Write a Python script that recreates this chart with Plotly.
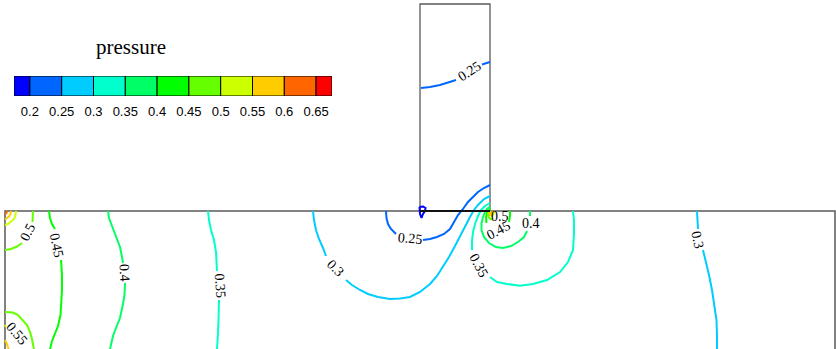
import plotly.graph_objects as go

# ---------------- colour legend (pressure bands) ----------------
band_low = [0.175, 0.2, 0.25, 0.3, 0.35, 0.4, 0.45, 0.5, 0.55, 0.6, 0.65]
band_high = [0.2, 0.25, 0.3, 0.35, 0.4, 0.45, 0.5, 0.55, 0.6, 0.65, 0.675]
band_colors = ['#0000ff', '#0066ff', '#00ccff', '#00ffcc', '#00ff66', '#00ff00',
               '#66ff00', '#ccff00', '#ffcc00', '#ff6600', '#ff0000']
tick_values = [0.2, 0.25, 0.3, 0.35, 0.4, 0.45, 0.5, 0.55, 0.6, 0.65]
tick_labels = ['0.2', '0.25', '0.3', '0.35', '0.4', '0.45', '0.5', '0.55', '0.6', '0.65']

# ---------------- geometry (domain outline) ----------------
channel_x = [5, 5, 835, 835]
channel_y = [349, 211, 211, 349]
block_x = [420, 420, 490, 490]
block_y = [211, 4, 4, 211]
interface_x = [420, 490]
interface_y = [211, 211]

# ---------------- contour lines (x, y) ----------------
c020_x = [419.5, 423, 425.5, 425, 423, 421.5, 420, 419.5, 419.5]
c020_y = [207, 206.5, 208, 211, 214, 218, 214, 210, 207]

c025_block_x = [421, 430, 440, 450, 456, None, 482, 486, 490]
c025_block_y = [88, 87, 85, 82, 80, None, 64.5, 63, 62]

c025_low_x = [386, 386.5, 388, 391, 396, None, 423, 430, 437, 444, 450, 454, 458, 463, 468, 473, 478, 484, 490]
c025_low_y = [211, 218, 224, 229, 234, None, 240, 239, 237, 234, 229, 222, 215, 209, 202, 197, 192, 188, 185]

c030_mid_x = [313, 314, 316, 319, 323, 326, None, 346, 352, 360, 368, 378, 390, 400, 410, 420, 430, 437, 443,
              449, 455, 460, 465, 470, 474, 478, 484, 490]
c030_mid_y = [211, 220, 230, 239, 248, 256, None, 280, 285, 290, 294, 297, 299, 298.5, 297, 292, 284, 276, 267,
              257, 246, 236, 226, 217, 210, 205, 199, 196]

c030_right_x = [697, 697.5, 698, None, 703, 706, 709, 712, 714.5, 716.5, 717, 717]
c030_right_y = [211, 220, 229, None, 250, 262, 275, 290, 305, 320, 335, 349]

c035_corner_x = [490, 485, 481, 478, 475, 473, 472, 472, None, 490, 497, 507, 520, 533, 547, 560, 568, 573, 574, 574, 573]
c035_corner_y = [203, 206, 210, 216, 224, 232, 241, 250, None, 277, 282, 284, 285.7, 284, 280, 272, 262, 250, 233, 220, 211]

c035_left_x = [208, 209, 211, 214, 216, 216.5, 217, None, 219, 219, 218.5, 218, 217]
c035_left_y = [211, 220, 230, 240, 252, 262, 271, None, 300, 310, 320, 333, 349]

c040_corner_x = [490, 487, 485, 483, 481.5, 481.5, 484, 489, 496, 503, 511, 518, 524, 527, None, 530, 530]
c040_corner_y = [206.5, 209, 212, 217, 223, 230, 237, 243, 247, 248, 246, 242, 237, 231, None, 216, 211]

c040_left_x = [108, 109, 112, 116, 120, 122, 123, None, 125, 124.5, 123, 120, 116, 113, 110]
c040_left_y = [211, 218, 226, 236, 247, 257, 263, None, 283, 295, 304, 318, 328, 336, 349]

c045_corner_x = [490, 488.5, 487, 486, 486.5, None, 509, 510, 510]
c045_corner_y = [208.5, 210.5, 213, 217, 223, None, 222, 216, 211]

c045_left_x = [49, 50, 52, 55, None, 61, 62, 62, 61.5, 60.5, 58, 55, 52, 50]
c045_left_y = [211, 218, 224, 229, None, 260, 275, 290, 300, 315, 326, 334, 341, 349]

c050_corner_x = [490, 488.5, 488, 488.5, 490.5, 493]
c050_corner_y = [210, 211.5, 214, 217, 219, 219.5]

c050_topleft_x = [33, 33, 32.5, None, 22, 17, 11, 5]
c050_topleft_y = [211, 217, 222, None, 243, 246.5, 249, 250]

c050_botleft_x = [5, 13, 18, 23, 27, 30, 32, 33.5, 34]
c050_botleft_y = [312, 312.5, 315, 320, 325, 332, 339, 347, 349]

c055_corner_x = [490, 489.5, 490.5, 492.5, 494, 494]
c055_corner_y = [211, 213, 215.5, 215.5, 213, 211]

c055_topleft_x = [16, 15.5, 14, 11, 8, 5]
c055_topleft_y = [211, 215, 219, 222, 224, 225]

c055_botleft_x = [5, 6]
c055_botleft_y = [325, 327]

c060_corner_x = [490, 489.5, 490, 491.5, 492, 492]
c060_corner_y = [211.5, 213, 215, 214.5, 212, 211.5]

c060_topleft_x = [11, 10.5, 9, 7, 5]
c060_topleft_y = [211, 214, 216.5, 218.5, 219.5]

c060_botleft_x = [5, 7, 8.5]
c060_botleft_y = [340, 344, 349]

c065_topleft_x = [7, 6.5, 5]
c065_topleft_y = [211, 213, 214.5]

contour_lines = [
    (0.2, c020_x, c020_y),
    (0.25, c025_block_x, c025_block_y),
    (0.25, c025_low_x, c025_low_y),
    (0.3, c030_mid_x, c030_mid_y),
    (0.3, c030_right_x, c030_right_y),
    (0.35, c035_corner_x, c035_corner_y),
    (0.35, c035_left_x, c035_left_y),
    (0.4, c040_corner_x, c040_corner_y),
    (0.4, c040_left_x, c040_left_y),
    (0.45, c045_corner_x, c045_corner_y),
    (0.45, c045_left_x, c045_left_y),
    (0.5, c050_corner_x, c050_corner_y),
    (0.5, c050_topleft_x, c050_topleft_y),
    (0.5, c050_botleft_x, c050_botleft_y),
    (0.55, c055_corner_x, c055_corner_y),
    (0.55, c055_topleft_x, c055_topleft_y),
    (0.55, c055_botleft_x, c055_botleft_y),
    (0.6, c060_corner_x, c060_corner_y),
    (0.6, c060_topleft_x, c060_topleft_y),
    (0.6, c060_botleft_x, c060_botleft_y),
    (0.65, c065_topleft_x, c065_topleft_y),
]

# contour labels
label_text = ['0.25', '0.25', '0.3', '0.3', '0.35', '0.35', '0.4', '0.4', '0.45', '0.45', '0.5', '0.5', '0.55']
label_x = [469, 410, 336, 698, 479, 220, 531, 125, 498, 57, 500, 27.5, 17]
label_y = [71, 238, 268, 240, 265, 285.5, 223, 273, 230, 245, 216, 232.5, 333]
label_angle = [-33, 5, 45, 78, 62, 86, 0, 86, -28, 79, 0, -63, 50]


def level_color(level):
    for hi, col in zip(band_high, band_colors):
        if abs(hi - level) < 1e-9:
            return col
    return '#000000'


fig = go.Figure()

# domain outline
fig.add_trace(go.Scatter(x=channel_x, y=channel_y, mode='lines',
                         line=dict(color='#5a5a5a', width=1.5), hoverinfo='skip'))
fig.add_trace(go.Scatter(x=block_x, y=block_y, mode='lines',
                         line=dict(color='#5a5a5a', width=1.3), hoverinfo='skip'))

# contour lines
for level, xs, ys in contour_lines:
    fig.add_trace(go.Scatter(x=xs, y=ys, mode='lines', connectgaps=False,
                             line=dict(color=level_color(level), width=2),
                             name=str(level), hoverinfo='skip'))

fig.add_trace(go.Scatter(x=interface_x, y=interface_y, mode='lines',
                         line=dict(color='#111111', width=2), hoverinfo='skip'))

# colour legend as stacked horizontal bars
fig.add_trace(go.Bar(x=[h - l for l, h in zip(band_low, band_high)], base=band_low,
                     y=[0] * len(band_low), orientation='h', width=1,
                     marker=dict(color=band_colors, line=dict(color='black', width=1)),
                     xaxis='x2', yaxis='y2', hoverinfo='skip'))

annotations = []
for t, x, y, a in zip(label_text, label_x, label_y, label_angle):
    annotations.append(dict(x=x, y=y, xref='x', yref='y', text=t, showarrow=False,
                            xanchor='center', yanchor='middle', textangle=a,
                            font=dict(family='Liberation Serif', size=14, color='black')))
annotations.append(dict(x=130.5 / 836, y=(349 - 47) / 349, xref='paper', yref='paper', text='pressure',
                        showarrow=False, xanchor='center', yanchor='middle',
                        font=dict(family='Liberation Serif', size=21, color='black')))

fig.update_layout(
    width=836, height=349,
    margin=dict(l=0, r=0, t=0, b=0),
    paper_bgcolor='white', plot_bgcolor='rgba(0,0,0,0)',
    showlegend=False,
    xaxis=dict(range=[0, 836], visible=False, domain=[0, 1]),
    yaxis=dict(range=[349, 0], visible=False, domain=[0, 1]),
    xaxis2=dict(range=[0.175, 0.675], domain=[14 / 836, 332 / 836], anchor='y2',
                tickvals=tick_values, ticktext=tick_labels, showgrid=False, zeroline=False,
                showline=False, ticks='outside', ticklen=3, tickcolor='rgba(0,0,0,0)',
                tickfont=dict(family='Liberation Sans', size=13, color='black')),
    yaxis2=dict(range=[-0.5, 0.5], domain=[(349 - 96) / 349, (349 - 76) / 349], anchor='x2',
                visible=False),
    annotations=annotations,
)

fig.write_html('out.html')
